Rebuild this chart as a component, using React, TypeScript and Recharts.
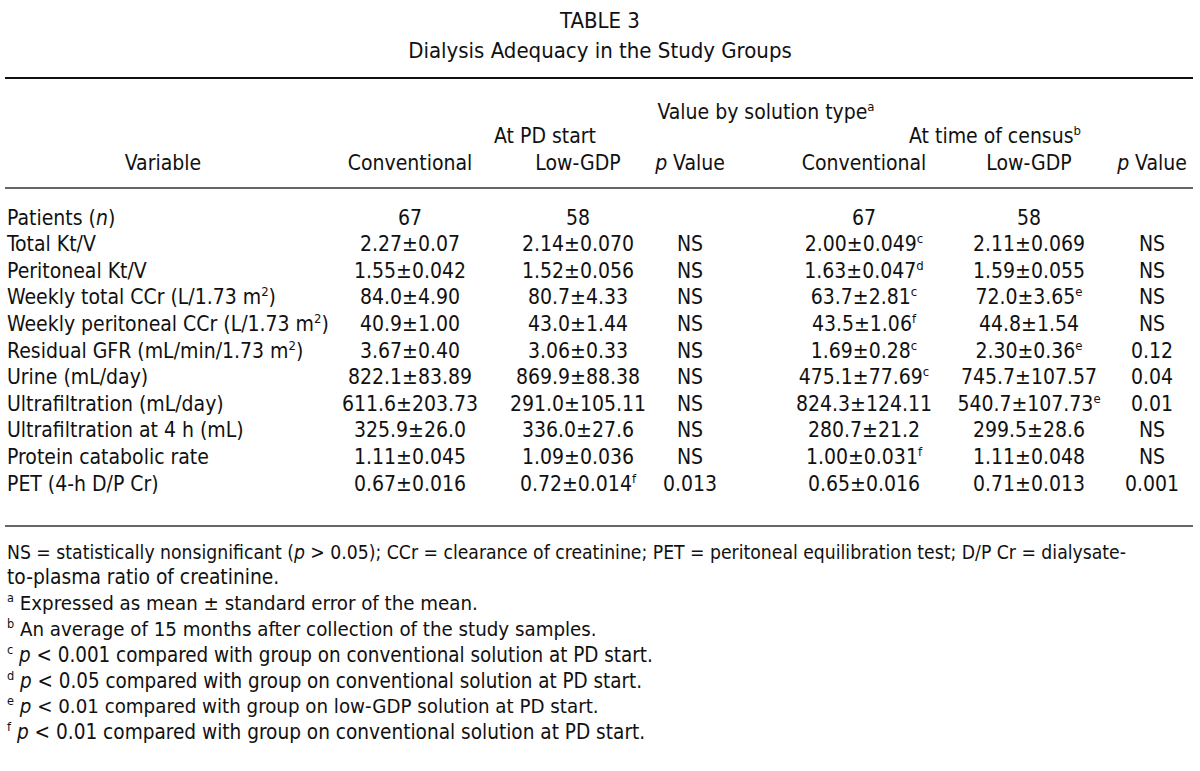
import React from "react";
import { Surface } from "recharts";

// ---------- DATA ----------
const titleLines = ["TABLE 3", "Dialysis Adequacy in the Study Groups"];
const spanHeader = "Value by solution type^a";
const groupHeaders = ["At PD start", "At time of census^b"];
const columnHeaders = ["Variable", "Conventional", "Low-GDP", "*p* Value", "Conventional", "Low-GDP", "*p* Value"];

const variables = [
  "Patients (*n*)",
  "Total Kt/V",
  "Peritoneal Kt/V",
  "Weekly total CCr (L/1.73 m^2)",
  "Weekly peritoneal CCr (L/1.73 m^2)",
  "Residual GFR (mL/min/1.73 m^2)",
  "Urine (mL/day)",
  "Ultrafiltration (mL/day)",
  "Ultrafiltration at 4 h (mL)",
  "Protein catabolic rate",
  "PET (4-h D/P Cr)",
];
const conventionalStart = ["67", "2.27±0.07", "1.55±0.042", "84.0±4.90", "40.9±1.00", "3.67±0.40", "822.1±83.89", "611.6±203.73", "325.9±26.0", "1.11±0.045", "0.67±0.016"];
const lowGdpStart = ["58", "2.14±0.070", "1.52±0.056", "80.7±4.33", "43.0±1.44", "3.06±0.33", "869.9±88.38", "291.0±105.11", "336.0±27.6", "1.09±0.036", "0.72±0.014^f"];
const pStart = ["", "NS", "NS", "NS", "NS", "NS", "NS", "NS", "NS", "NS", "0.013"];
const conventionalCensus = ["67", "2.00±0.049^c", "1.63±0.047^d", "63.7±2.81^c", "43.5±1.06^f", "1.69±0.28^c", "475.1±77.69^c", "824.3±124.11", "280.7±21.2", "1.00±0.031^f", "0.65±0.016"];
const lowGdpCensus = ["58", "2.11±0.069", "1.59±0.055", "72.0±3.65^e", "44.8±1.54", "2.30±0.36^e", "745.7±107.57", "540.7±107.73^e", "299.5±28.6", "1.11±0.048", "0.71±0.013"];
const pCensus = ["", "NS", "NS", "NS", "NS", "0.12", "0.04", "0.01", "NS", "NS", "0.001"];

const footnotes = [
  "NS = statistically nonsignificant (*p* > 0.05); CCr = clearance of creatinine; PET = peritoneal equilibration test; D/P Cr = dialysate-",
  "to-plasma ratio of creatinine.",
  "^a Expressed as mean ± standard error of the mean.",
  "^b An average of 15 months after collection of the study samples.",
  "^c *p* < 0.001 compared with group on conventional solution at PD start.",
  "^d *p* < 0.05 compared with group on conventional solution at PD start.",
  "^e *p* < 0.01 compared with group on low-GDP solution at PD start.",
  "^f *p* < 0.01 compared with group on conventional solution at PD start.",
];

// ---------- LAYOUT ----------
const W = 1200;
const H = 771;
const FONT = "'DejaVu Sans Condensed', 'DejaVu Sans', sans-serif";
const FS = 21;
const colX = [163, 410, 578, 690, 864, 1029, 1152];
const rowTop = 217;
const rowStep = 26.6;
const footTop = 551;
const footStep = 25.8;
const footFontSizes = [19.2, 20.8, 20.3, 20.3, 20.4, 20.4, 20.3, 20.6];

function Rich({ s, x, y, anchor = "middle", fs = FS, fill = "#111" }: { s: string; x: number; y: number; anchor?: string; fs?: number; fill?: string }) {
  const parts = s.split(/(\*[^*]+\*|\^[a-z0-9])/).filter((p) => p !== "");
  const sup = Math.round(fs * 0.4);
  let shifted = false;
  const nodes: React.ReactNode[] = [];
  parts.forEach((p, i) => {
    if (p.startsWith("^")) {
      nodes.push(
        <tspan key={i} dy={-sup} fontSize={fs * 0.62}>
          {p.slice(1)}
        </tspan>
      );
      shifted = true;
    } else {
      const italic = p.startsWith("*") && p.endsWith("*") && p.length > 2;
      const txt = italic ? p.slice(1, -1) : p;
      nodes.push(
        <tspan key={i} dy={shifted ? sup : 0} fontStyle={italic ? "italic" : "normal"}>
          {txt}
        </tspan>
      );
      shifted = false;
    }
  });
  return (
    <text x={x} y={y} textAnchor={anchor as any} fontFamily={FONT} fontSize={fs} fill={fill} style={{ whiteSpace: "pre" }}>
      {nodes}
    </text>
  );
}

export default function App() {
  const columns = [conventionalStart, lowGdpStart, pStart, conventionalCensus, lowGdpCensus, pCensus];
  const base = (c: number) => c + 7.5;
  return (
    <div style={{ position: "absolute", left: 0, top: 0, width: W, height: H, background: "#fff" }}>
      <Surface width={W} height={H} viewBox={{ x: 0, y: 0, width: W, height: H }}>
        <rect x={0} y={0} width={W} height={H} fill="#fff" />
        <Rich s={titleLines[0]} x={600} y={base(20)} fs={22} />
        <Rich s={titleLines[1]} x={600} y={base(50)} fs={22} />
        <line x1={5} x2={1193} y1={78} y2={78} stroke="#111" strokeWidth={2} />

        <Rich s={spanHeader} x={766} y={base(111)} />
        <Rich s={groupHeaders[0]} x={545} y={base(135)} />
        <Rich s={groupHeaders[1]} x={995} y={base(135)} />
        {columnHeaders.map((h, i) => (
          <Rich key={i} s={h} x={colX[i]} y={base(162)} />
        ))}
        <line x1={5} x2={1193} y1={188} y2={188} stroke="#666" strokeWidth={2} />

        {variables.map((v, r) => (
          <Rich key={"v" + r} s={v} x={7} y={base(rowTop + r * rowStep)} anchor="start" />
        ))}
        {columns.map((col, c) =>
          col.map((val, r) => (val ? <Rich key={c + "-" + r} s={val} x={colX[c + 1]} y={base(rowTop + r * rowStep)} /> : null))
        )}
        <line x1={5} x2={1193} y1={526} y2={526} stroke="#666" strokeWidth={2} />

        {footnotes.map((f, i) => (
          <Rich key={"f" + i} s={f} x={7} y={base(footTop + i * footStep)} anchor="start" fs={footFontSizes[i]} />
        ))}
      </Surface>
    </div>
  );
}
